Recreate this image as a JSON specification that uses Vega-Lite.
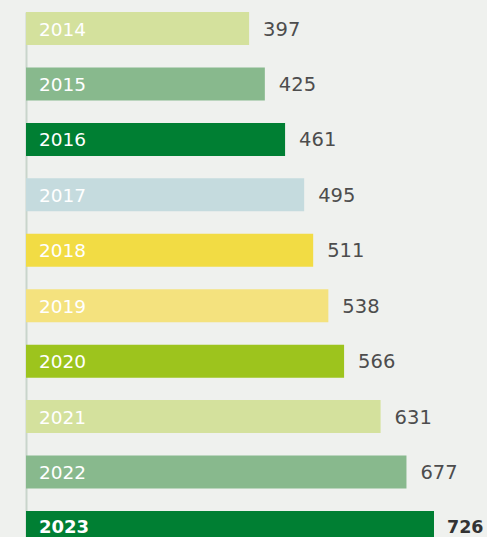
{
  "$schema": "https://vega.github.io/schema/vega-lite/v6.json",
  "autosize": {"type": "none"},
  "width": 408,
  "height": 532,
  "padding": {"left": 26, "top": 12, "right": 53, "bottom": 0},
  "background": "#eff1ee",
  "config": {"view": {"stroke": null}},
  "data": {
    "values": [
      {"year": "2014", "value": 397, "color": "#d4e19d", "bold": "no"},
      {"year": "2015", "value": 425, "color": "#88b98d", "bold": "no"},
      {"year": "2016", "value": 461, "color": "#007f33", "bold": "no"},
      {"year": "2017", "value": 495, "color": "#c5dbde", "bold": "no"},
      {"year": "2018", "value": 511, "color": "#f2dc44", "bold": "no"},
      {"year": "2019", "value": 538, "color": "#f4e27e", "bold": "no"},
      {"year": "2020", "value": 566, "color": "#9dc41d", "bold": "no"},
      {"year": "2021", "value": 631, "color": "#d4e19d", "bold": "no"},
      {"year": "2022", "value": 677, "color": "#88b98d", "bold": "no"},
      {"year": "2023", "value": 726, "color": "#007f33", "bold": "yes"}
    ]
  },
  "encoding": {
    "y": {
      "field": "year",
      "type": "nominal",
      "sort": null,
      "scale": {"paddingInner": 0.404, "paddingOuter": 0},
      "axis": {"title": null, "labels": false, "ticks": false, "domainColor": "#c9d5cb", "domainWidth": 2, "grid": false}
    }
  },
  "layer": [
    {
      "mark": {"type": "bar"},
      "encoding": {
        "x": {"field": "value", "type": "quantitative", "scale": {"domain": [0, 726], "nice": false}, "axis": null},
        "color": {"field": "color", "type": "nominal", "scale": null}
      }
    },
    {
      "transform": [{"filter": "datum.bold == 'no'"}],
      "mark": {"type": "text", "align": "left", "baseline": "middle", "dx": 13, "dy": 1, "fontSize": 18.5, "font": "DejaVu Sans", "color": "#ffffff"},
      "encoding": {
        "x": {"datum": 0, "type": "quantitative"},
        "text": {"field": "year"}
      }
    },
    {
      "transform": [{"filter": "datum.bold == 'yes'"}],
      "mark": {"type": "text", "align": "left", "baseline": "middle", "dx": 13, "dy": 1, "fontSize": 18, "fontWeight": "bold", "font": "DejaVu Sans", "color": "#ffffff"},
      "encoding": {
        "x": {"datum": 0, "type": "quantitative"},
        "text": {"field": "year"}
      }
    },
    {
      "transform": [{"filter": "datum.bold == 'no'"}],
      "mark": {"type": "text", "align": "left", "baseline": "middle", "dx": 14, "dy": 1, "fontSize": 19.5, "font": "DejaVu Sans", "color": "#4d4d4d"},
      "encoding": {
        "x": {"field": "value", "type": "quantitative"},
        "text": {"field": "value"}
      }
    },
    {
      "transform": [{"filter": "datum.bold == 'yes'"}],
      "mark": {"type": "text", "align": "left", "baseline": "middle", "dx": 13, "dy": 1, "fontSize": 17.5, "fontWeight": "bold", "font": "DejaVu Sans", "color": "#333333"},
      "encoding": {
        "x": {"field": "value", "type": "quantitative"},
        "text": {"field": "value"}
      }
    }
  ]
}
